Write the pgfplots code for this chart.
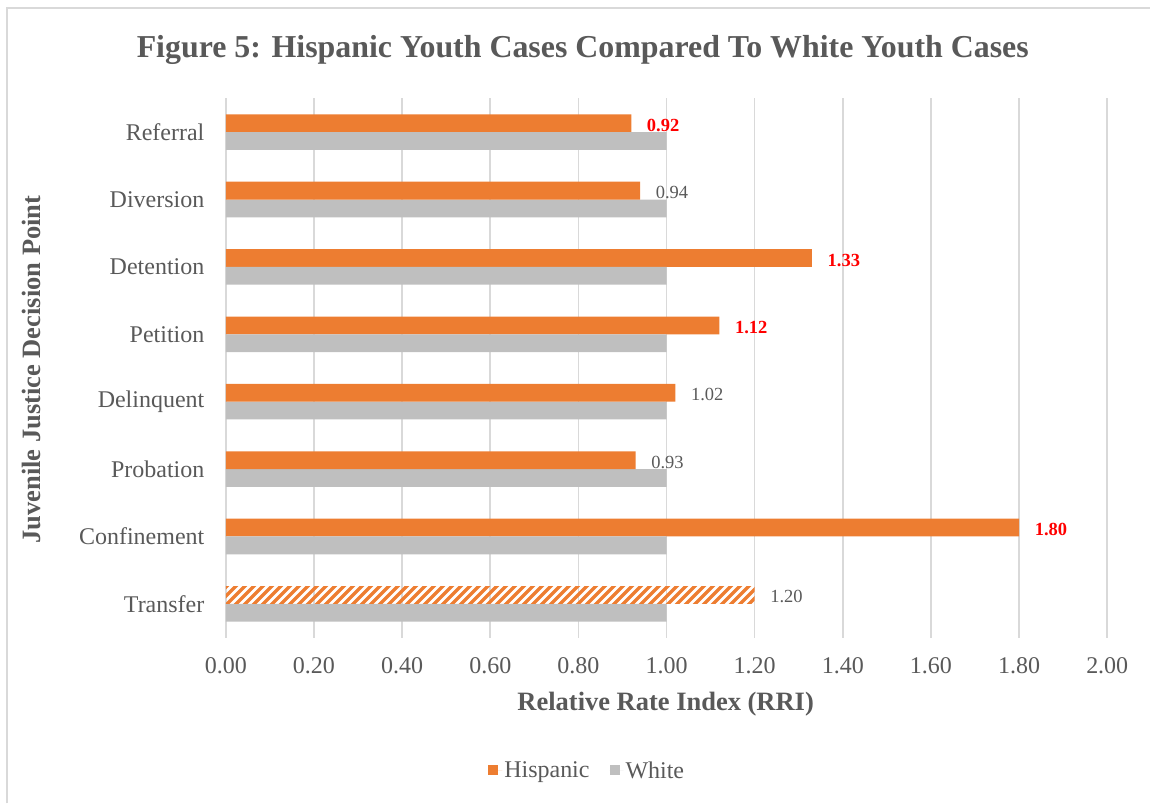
\documentclass[border=0pt]{standalone}
\usepackage{pgfplots}
\pgfplotsset{compat=1.18}
\usepackage{fontspec}
\setmainfont{Liberation Serif}
\usetikzlibrary{patterns.meta}

\definecolor{hisp}{HTML}{ED7D31}
\definecolor{whitebar}{HTML}{BFBFBF}
\definecolor{gridgray}{HTML}{D9D9D9}
\definecolor{txtgray}{HTML}{595959}
\definecolor{lblred}{HTML}{FF0000}

% thick "wide upward diagonal" hatching
\tikzdeclarepattern{
  name=wideupdiag,
  type=uncolored,
  bounding box={(0pt,0pt) and (9pt,9pt)},
  tile size={(9pt,9pt)},
  code={
    \pgfsetlinewidth{3.2pt}
    \pgfpathmoveto{\pgfqpoint{-2pt}{-2pt}}\pgfpathlineto{\pgfqpoint{11pt}{11pt}}
    \pgfpathmoveto{\pgfqpoint{-11pt}{-2pt}}\pgfpathlineto{\pgfqpoint{2pt}{11pt}}
    \pgfpathmoveto{\pgfqpoint{-2pt}{-11pt}}\pgfpathlineto{\pgfqpoint{11pt}{2pt}}
    \pgfusepath{stroke}
  }
}

\begin{document}
\begin{tikzpicture}[x=1pt,y=1pt]
\path (0,0) rectangle (1151,804);
\draw[gridgray, line width=1.6pt] (7,0) -- (7,796) -- (1151,796);

\begin{axis}[
  at={(226pt,166pt)}, anchor=south west,
  scale only axis, width=882pt, height=539.5pt,
  xbar, bar width=17.8pt,
  xmin=0, xmax=2, ymin=-0.5, ymax=7.5,
  xtick={0,0.2,...,2.01},
  ytick={0,...,7},
  yticklabels={Transfer,Confinement,Probation,Delinquent,Petition,Detention,Diversion,Referral},
  /pgf/number format/.cd, fixed, fixed zerofill, precision=2, assume math mode=true,
  /pgfplots/.cd,
  xmajorgrids, major grid style={gridgray, line width=1.6pt},
  axis line style={draw=none}, major tick length=0pt,
  tick label style={font=\fontsize{24}{28}\selectfont, text=txtgray},
  xticklabel style={yshift=-16pt},
  yticklabel style={xshift=-18pt},
  title={Figure 5: Hispanic Youth Cases Compared To White Youth Cases},
  title style={font=\fontsize{31.9}{36}\selectfont\bfseries, text=txtgray,
    at={(axis description cs:0.405,1.0788)}, anchor=center},
  xlabel={Relative Rate Index (RRI)},
  xlabel style={font=\fontsize{26.5}{30}\selectfont\bfseries, text=txtgray,
    at={(axis description cs:0.499,-0.124)}, anchor=center},
  ylabel={Juvenile Justice Decision Point},
  ylabel style={font=\fontsize{26.5}{30}\selectfont\bfseries, text=txtgray,
    at={(axis description cs:-0.22,0.497)}, anchor=center},
  legend columns=2,
  legend style={draw=none, fill=none, font=\fontsize{24}{28}\selectfont, text=txtgray,
    at={(axis description cs:0.41,-0.2465)}, anchor=center,
    /tikz/every even column/.append style={column sep=18pt},
    legend cell align=left},
  legend image code/.code={\fill[#1] (0pt,-5pt) rectangle (10pt,5pt);
    \path (0pt,0pt) -- (14pt,0pt);},
  nodes near coords,
  nodes near coords align={horizontal},
  every node near coord/.append style={font=\fontsize{18.5}{22}\selectfont,
    inner sep=0pt, xshift=15.5pt, yshift=-2pt, anchor=west},
]
% Hispanic, values flagged in bold red
\addplot[fill=hisp, draw=none, bar shift=8.9pt,
  every node near coord/.append style={text=lblred, font=\fontsize{18.5}{22}\selectfont\bfseries}]
  coordinates {(0.92,7) (1.33,5) (1.12,4) (1.80,1)};
\addlegendentry{Hispanic}
% White reference group
\addplot[fill=whitebar, draw=none, bar shift=-8.9pt, nodes near coords={}]
  coordinates {(1,7) (1,6) (1,5) (1,4) (1,3) (1,2) (1,1) (1,0)};
\addlegendentry{White}
% Hispanic, remaining decision points
\addplot[fill=hisp, draw=none, bar shift=8.9pt, forget plot,
  every node near coord/.append style={text=txtgray}]
  coordinates {(0.94,6) (1.02,3) (0.93,2)};
% Hispanic, transfer (hatched)
\addplot[pattern=wideupdiag, pattern color=hisp, draw=none, bar shift=8.9pt, forget plot,
  every node near coord/.append style={text=txtgray}]
  coordinates {(1.20,0)};
\end{axis}
\end{tikzpicture}
\end{document}
